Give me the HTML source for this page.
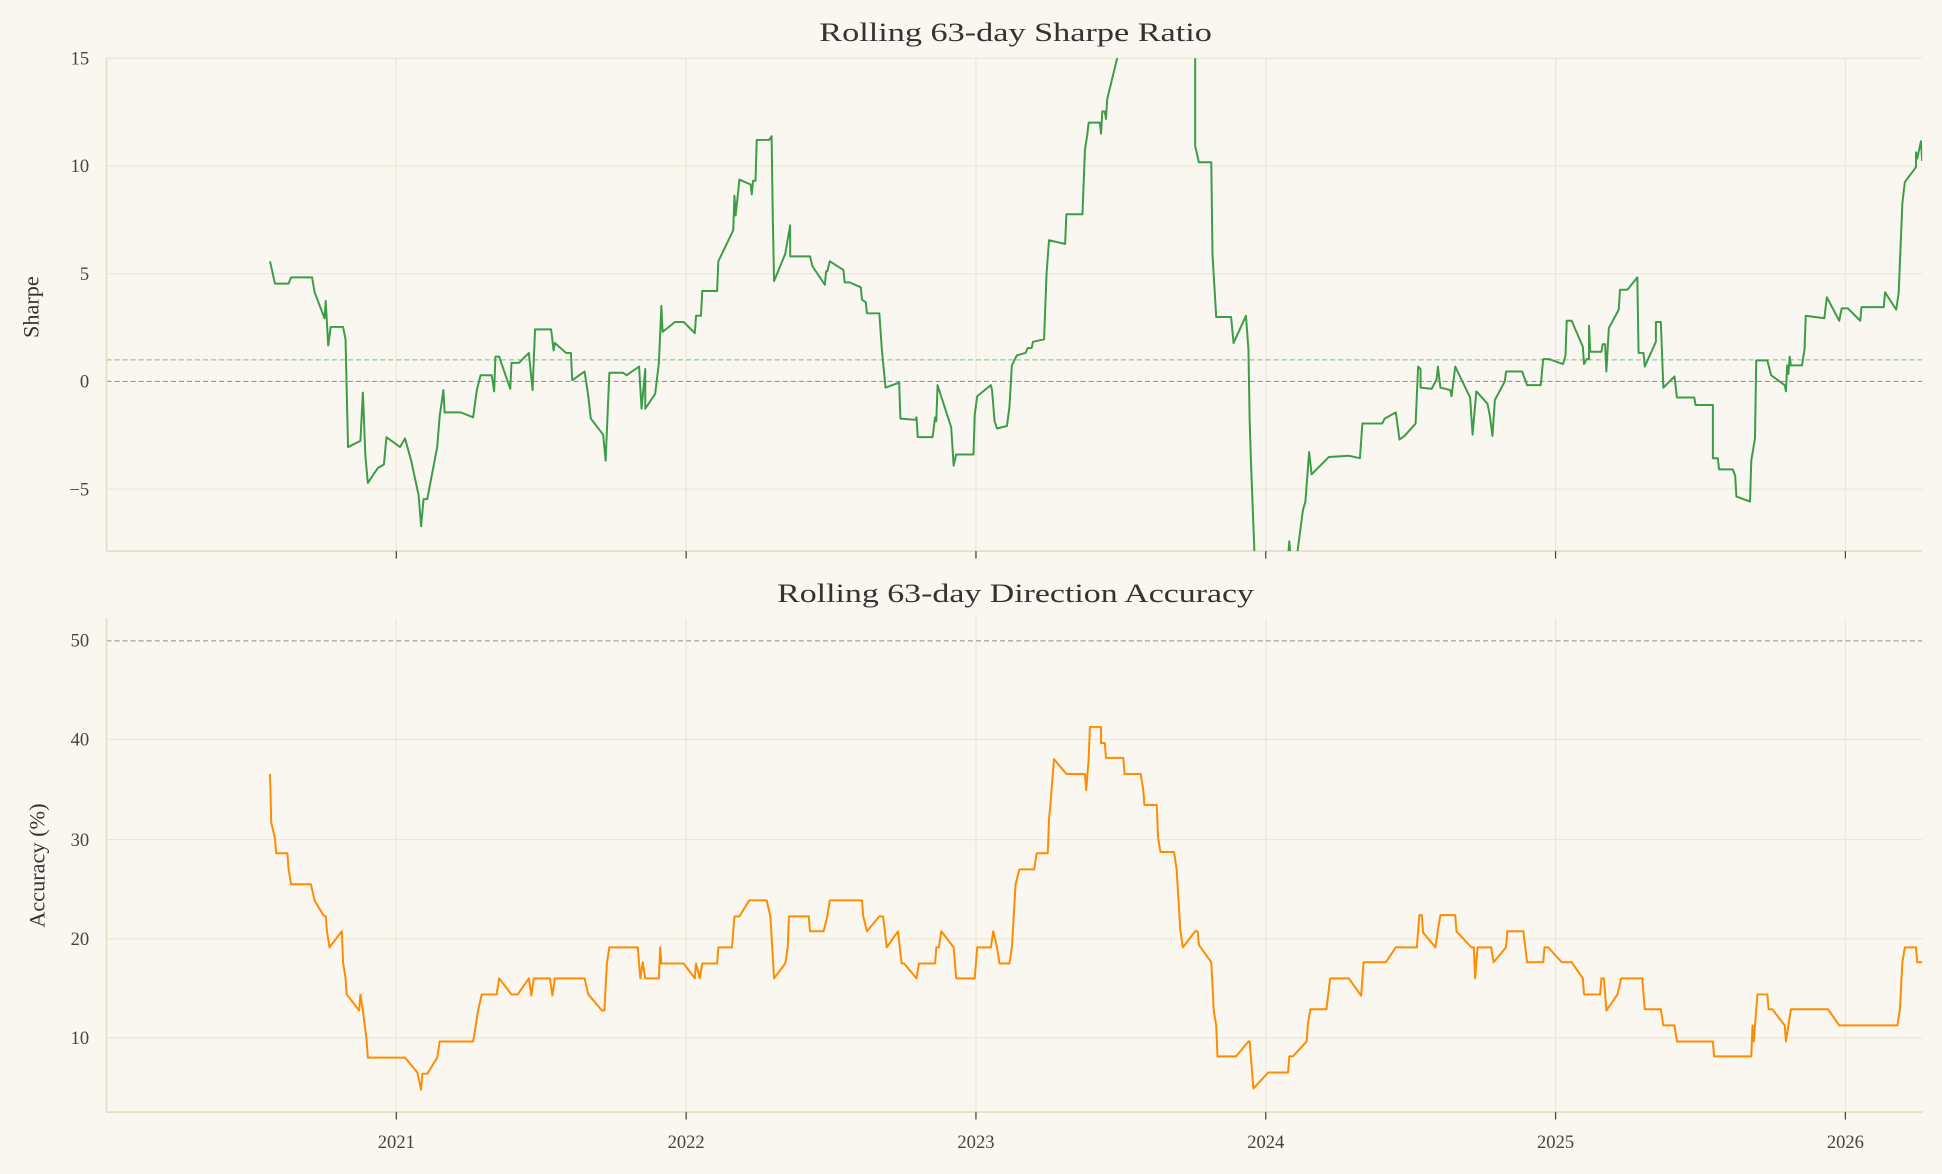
<!DOCTYPE html>
<html><head><meta charset="utf-8"><style>
html,body{margin:0;padding:0;background:#faf7f0;}
svg{display:block;}
text{font-family:"Liberation Serif","DejaVu Serif",serif;fill:#333;}
.t{fill:#444;font-size:15px;}
</style></head><body>
<svg width="1942" height="1174" viewBox="0 0 1568 948" preserveAspectRatio="none" xmlns="http://www.w3.org/2000/svg">
<rect width="1568" height="948" fill="#faf7f0"/>
<g stroke="#efe7d6" stroke-width="1">
<line x1="320" y1="47" x2="320" y2="445"/><line x1="554" y1="47" x2="554" y2="445"/><line x1="788" y1="47" x2="788" y2="445"/><line x1="1022" y1="47" x2="1022" y2="445"/><line x1="1256" y1="47" x2="1256" y2="445"/><line x1="1490" y1="47" x2="1490" y2="445"/>
<line x1="86" y1="47" x2="1552" y2="47"/><line x1="86" y1="134" x2="1552" y2="134"/><line x1="86" y1="221" x2="1552" y2="221"/><line x1="86" y1="395" x2="1552" y2="395"/>
</g>
<line x1="86" y1="290.6" x2="1552" y2="290.6" stroke="#7cc47f" stroke-width="0.8" stroke-dasharray="4,2.5"/>
<line x1="86" y1="308" x2="1552" y2="308" stroke="#888" stroke-width="0.8" stroke-dasharray="4,2.5"/>
<line x1="86" y1="47" x2="86" y2="445" stroke="#e8dfc8" stroke-width="1.5"/>
<line x1="86" y1="445" x2="1552" y2="445" stroke="#e8dfc8" stroke-width="1.5"/>
<g stroke="#444" stroke-width="1"><line x1="320" y1="445" x2="320" y2="451"/><line x1="554" y1="445" x2="554" y2="451"/><line x1="788" y1="445" x2="788" y2="451"/><line x1="1022" y1="445" x2="1022" y2="451"/><line x1="1256" y1="445" x2="1256" y2="451"/><line x1="1490" y1="445" x2="1490" y2="451"/></g>
<g text-anchor="end">
<text class="t" x="72" y="52">15</text><text class="t" x="72" y="139">10</text><text class="t" x="72" y="226">5</text><text class="t" x="72" y="313">0</text><text class="t" x="72" y="400">−5</text>
</g>
<text x="820" y="33" text-anchor="middle" font-size="21" textLength="317" lengthAdjust="spacingAndGlyphs">Rolling 63-day Sharpe Ratio</text>
<text transform="translate(31,248) rotate(-90)" text-anchor="middle" font-size="18">Sharpe</text>
<svg x="86" y="47" width="1466" height="398" viewBox="86 47 1466 398" overflow="hidden">
<polyline fill="none" stroke="#3d9c48" stroke-width="1.6" stroke-linejoin="round" points="218,211 220,220 222,229 233,229 235,224 252,224 254,236 262,257 263,243 265,279 267,264 277,264 279,274 281,361 291,356 293,317 295,368 297,390 305,378 310,375 312,353 323,361 327,354 332,372 338,400 340,425 342,403 345,403 353,361 355,336 358,315 359,333 372,333 382,337 385,315 388,303 397,303 399,316 400,288 403,288 412,314 413,293 419,293 427,285 430,315 432,266 445,266 447,283 448,277 457,285 461,285 462,307 472,300 475,320 477,338 487,351 489,372 492,301 503,301 506,303 516,296 518,330 521,298 521,330 529,318 532,293 534,247 535,268 545,260 552,260 561,269 562,255 566,255 567,235 579,235 580,211 592,186 593,158 594,174 597,145 606,149 607,157 608,146 610,146 611,113 621,113 623,110 624,178 625,227 634,205 638,182 638,207 654,207 656,215 666,230 667,219 668,219 670,211 681,218 682,228 686,228 695,232 696,242 699,244 700,253 710,253 712,282 715,313 726,309 727,338 739,339 740,337 741,353 753,353 755,337 756,340 757,311 768,345 770,376 772,367 786,367 787,335 789,320 800,311 801,315 803,340 805,346 813,344 815,329 817,295 821,287 828,285 830,281 833,281 834,276 843,274 845,221 847,194 860,197 861,173 874,173 876,121 878,108 879,99 888,99 889,108 890,90 892,90 893,96 894,80 902,47 906,30 960,30 965,47 965,118 968,131 978,131 979,206 982,256 994,256 996,277 1006,255 1008,282 1009,340 1010,372 1013,450 1040,450 1041,437 1042,450 1047,450 1052,412 1054,405 1057,365 1059,383 1073,369 1089,368 1098,370 1100,342 1116,342 1118,338 1127,333 1130,355 1134,352 1143,342 1145,296 1147,298 1147,313 1156,314 1160,306 1161,296 1163,313 1171,315 1172,320 1175,296 1187,321 1189,351 1192,316 1201,326 1203,336 1205,352 1207,323 1215,308 1216,300 1229,300 1233,311 1244,311 1246,290 1251,290 1262,294 1264,287 1265,259 1269,259 1278,280 1279,294 1281,290 1283,290 1283,263 1284,284 1293,284 1294,278 1296,278 1297,300 1299,265 1307,250 1308,234 1314,234 1322,224 1323,285 1327,285 1328,296 1337,276 1337,260 1341,260 1343,313 1352,304 1354,321 1368,321 1369,327 1383,327 1383,370 1387,370 1388,379 1399,379 1401,384 1402,401 1413,405 1414,372 1417,354 1418,291 1427,291 1430,303 1441,311 1442,316 1443,295 1444,302 1445,288 1446,295 1455,295 1457,282 1458,255 1473,257 1475,240 1485,259 1487,249 1492,249 1502,259 1503,248 1521,248 1522,236 1531,250 1533,237 1536,164 1538,147 1547,135 1547,123 1548,128 1551,114 1552,130"/>
</svg>
<g stroke="#efe7d6" stroke-width="1">
<line x1="320" y1="499" x2="320" y2="898"/><line x1="554" y1="499" x2="554" y2="898"/><line x1="788" y1="499" x2="788" y2="898"/><line x1="1022" y1="499" x2="1022" y2="898"/><line x1="1256" y1="499" x2="1256" y2="898"/><line x1="1490" y1="499" x2="1490" y2="898"/>
<line x1="86" y1="597" x2="1552" y2="597"/><line x1="86" y1="678" x2="1552" y2="678"/><line x1="86" y1="758" x2="1552" y2="758"/><line x1="86" y1="838" x2="1552" y2="838"/>
</g>
<line x1="86" y1="517.5" x2="1552" y2="517.5" stroke="#888" stroke-width="0.8" stroke-dasharray="4,2.5"/>
<line x1="86" y1="499" x2="86" y2="898" stroke="#e8dfc8" stroke-width="1.5"/>
<line x1="86" y1="898" x2="1552" y2="898" stroke="#e8dfc8" stroke-width="1.5"/>
<g stroke="#444" stroke-width="1"><line x1="320" y1="898" x2="320" y2="904"/><line x1="554" y1="898" x2="554" y2="904"/><line x1="788" y1="898" x2="788" y2="904"/><line x1="1022" y1="898" x2="1022" y2="904"/><line x1="1256" y1="898" x2="1256" y2="904"/><line x1="1490" y1="898" x2="1490" y2="904"/></g>
<g text-anchor="end">
<text class="t" x="72" y="522">50</text><text class="t" x="72" y="602">40</text><text class="t" x="72" y="683">30</text><text class="t" x="72" y="763">20</text><text class="t" x="72" y="843">10</text>
</g>
<g text-anchor="middle">
<text class="t" x="320" y="927">2021</text><text class="t" x="554" y="927">2022</text><text class="t" x="788" y="927">2023</text><text class="t" x="1022" y="927">2024</text><text class="t" x="1256" y="927">2025</text><text class="t" x="1490" y="927">2026</text>
</g>
<text x="820" y="486" text-anchor="middle" font-size="21" textLength="385" lengthAdjust="spacingAndGlyphs">Rolling 63-day Direction Accuracy</text>
<text transform="translate(36,699) rotate(-90)" text-anchor="middle" font-size="18">Accuracy (%)</text>
<polyline fill="none" stroke="#ff8c00" stroke-width="1.6" stroke-linejoin="round" points="218,625 219,664 222,677 223,689 232,689 233,702 235,714 251,714 254,727 261,739 263,740 264,752 266,765 276,752 277,777 279,790 280,803 290,816 291,803 293,816 296,840 297,854 327,854 337,866 340,880 341,867 345,867 353,854 355,841 382,841 384,829 386,816 389,803 401,803 403,790 413,803 418,803 427,790 429,804 431,790 444,790 446,804 448,790 472,790 475,803 486,816 488,816 490,778 492,765 515,765 517,790 519,777 521,790 532,790 533,765 534,778 552,778 561,790 562,778 565,790 567,778 579,778 580,765 591,765 593,740 597,740 605,727 619,727 622,740 625,790 634,778 636,765 637,740 653,740 654,752 665,752 668,740 670,727 696,727 697,740 700,752 710,740 713,740 716,765 725,752 728,778 730,778 740,790 742,778 755,778 756,765 758,765 760,752 770,765 772,790 787,790 789,765 800,765 802,752 805,765 807,778 815,778 817,765 820,714 823,702 835,702 837,689 846,689 847,661 848,651 851,613 861,625 876,625 877,638 879,613 880,587 889,587 889,600 892,600 893,612 907,612 908,625 921,625 923,637 924,650 934,650 935,676 937,688 948,688 950,702 953,751 955,765 965,752 967,752 968,763 978,777 980,816 982,828 983,853 998,853 1008,841 1009,841 1012,879 1024,866 1040,866 1041,853 1044,853 1055,841 1056,827 1058,815 1071,815 1074,790 1089,790 1099,804 1101,777 1119,777 1127,765 1144,765 1146,739 1148,739 1149,753 1159,765 1161,751 1163,739 1175,739 1176,752 1188,765 1190,765 1191,790 1193,765 1204,765 1206,777 1216,765 1217,752 1230,752 1233,777 1246,777 1247,765 1250,765 1261,777 1269,777 1278,790 1279,803 1292,803 1293,790 1295,790 1297,816 1306,803 1309,790 1326,790 1328,815 1341,815 1343,828 1352,828 1354,841 1383,841 1384,853 1414,853 1415,828 1416,841 1419,803 1427,803 1428,815 1431,815 1441,828 1442,841 1444,828 1446,815 1476,815 1485,828 1532,828 1534,815 1536,777 1538,765 1547,765 1548,777 1552,777"/>
</svg>
</body></html>
